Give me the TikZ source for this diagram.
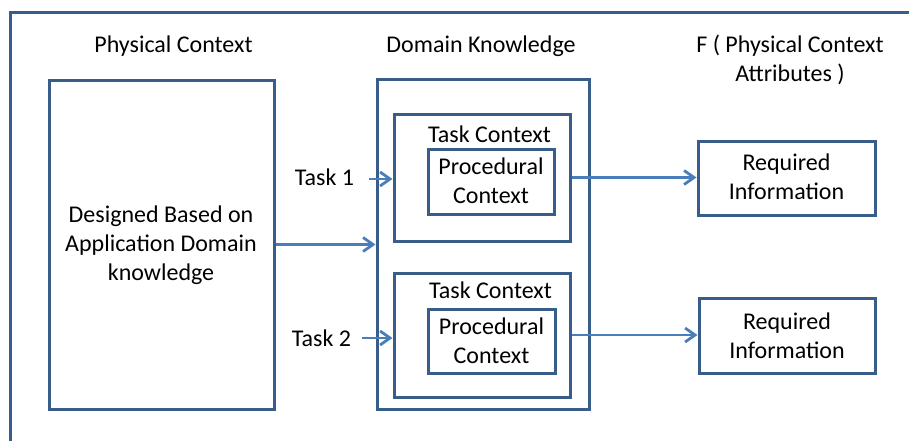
\documentclass[tikz,border=0pt]{standalone}
\usepackage{fontspec}
\setmainfont{Carlito}
\usetikzlibrary{arrows.meta}
\definecolor{boxblue}{HTML}{385D8A}
\definecolor{arrowblue}{HTML}{4A7EBB}
\begin{document}
\begin{tikzpicture}[x=1pt,y=-1pt,
  box/.style={draw=boxblue, line width=3pt, fill=white, rectangle, inner sep=0pt},
  txt/.style={inner sep=0pt, align=center, text=black, font=\fontsize{24}{28.8}\selectfont},
  arr/.style={draw=arrowblue, line width=2.8pt, -{Straight Barb[length=10pt,width=14pt]}}]
  % page area
  \useasboundingbox (0,0) rectangle (909,440);
  \clip (0,0) rectangle (909,440);
  \fill[white] (0,0) rectangle (909,440);
  % outer frame (top and left edges only inside the page)
  \draw[boxblue, line width=3pt] (10,460) -- (10,12) -- (930,12);

  % column titles
  \node[txt] (physt) at (173.5,46) {Physical Context};
  \node[txt] (dkt) at (481,46) {Domain Knowledge};
  \node[txt] (ft) at (790,60) {F ( Physical Context\\Attributes )};

  % boxes
  \node[box, minimum width=225pt, minimum height=329pt] (phys) at (161.5,244.5) {};
  \node[box, minimum width=212pt, minimum height=330pt] (dk) at (483,244) {};
  \node[box, minimum width=176pt, minimum height=127pt] (tc1) at (482,177.5) {};
  \node[box, minimum width=126pt, minimum height=65pt] (pc1) at (491,181.5) {};
  \node[box, minimum width=176pt, minimum height=124pt] (tc2) at (482,335) {};
  \node[box, minimum width=127pt, minimum height=64pt] (pc2) at (491.5,341) {};
  \node[box, minimum width=177pt, minimum height=74pt] (req1) at (786.5,178) {};
  \node[box, minimum width=176pt, minimum height=75pt] (req2) at (787,335.5) {};

  % box texts
  \node[txt] (dest) at (161,245.5) {Designed Based on\\Application Domain\\knowledge};
  \node[txt] (tc1t) at (489.5,134) {Task Context};
  \node[txt] (tc2t) at (490.5,290) {Task Context};
  \node[txt] (pc1t) at (491,181) {Procedural\\Context};
  \node[txt] (pc2t) at (491.5,340.5) {Procedural\\Context};
  \node[txt] (req1t) at (786.5,177) {Required\\Information};
  \node[txt] (req2t) at (787,336) {Required\\Information};

  % task labels
  \node[txt] (task1) at (324.5,177) {Task 1};
  \node[txt] (task2) at (321.5,338) {Task 2};
  \coordinate (t1s) at (369,179);
  \coordinate (t2s) at (362,338);

  % connectors
  \draw[arr] (t1s) -- (t1s -| tc1.west);
  \draw[arr] (t2s) -- (t2s -| tc2.west);
  \draw[arr] (phys.east) -- (phys.east -| dk.west);
  \draw[arr] (tc1.east) -- (tc1.east -| req1.west);
  \draw[arr] (tc2.east) -- (tc2.east -| req2.west);
\end{tikzpicture}
\end{document}
